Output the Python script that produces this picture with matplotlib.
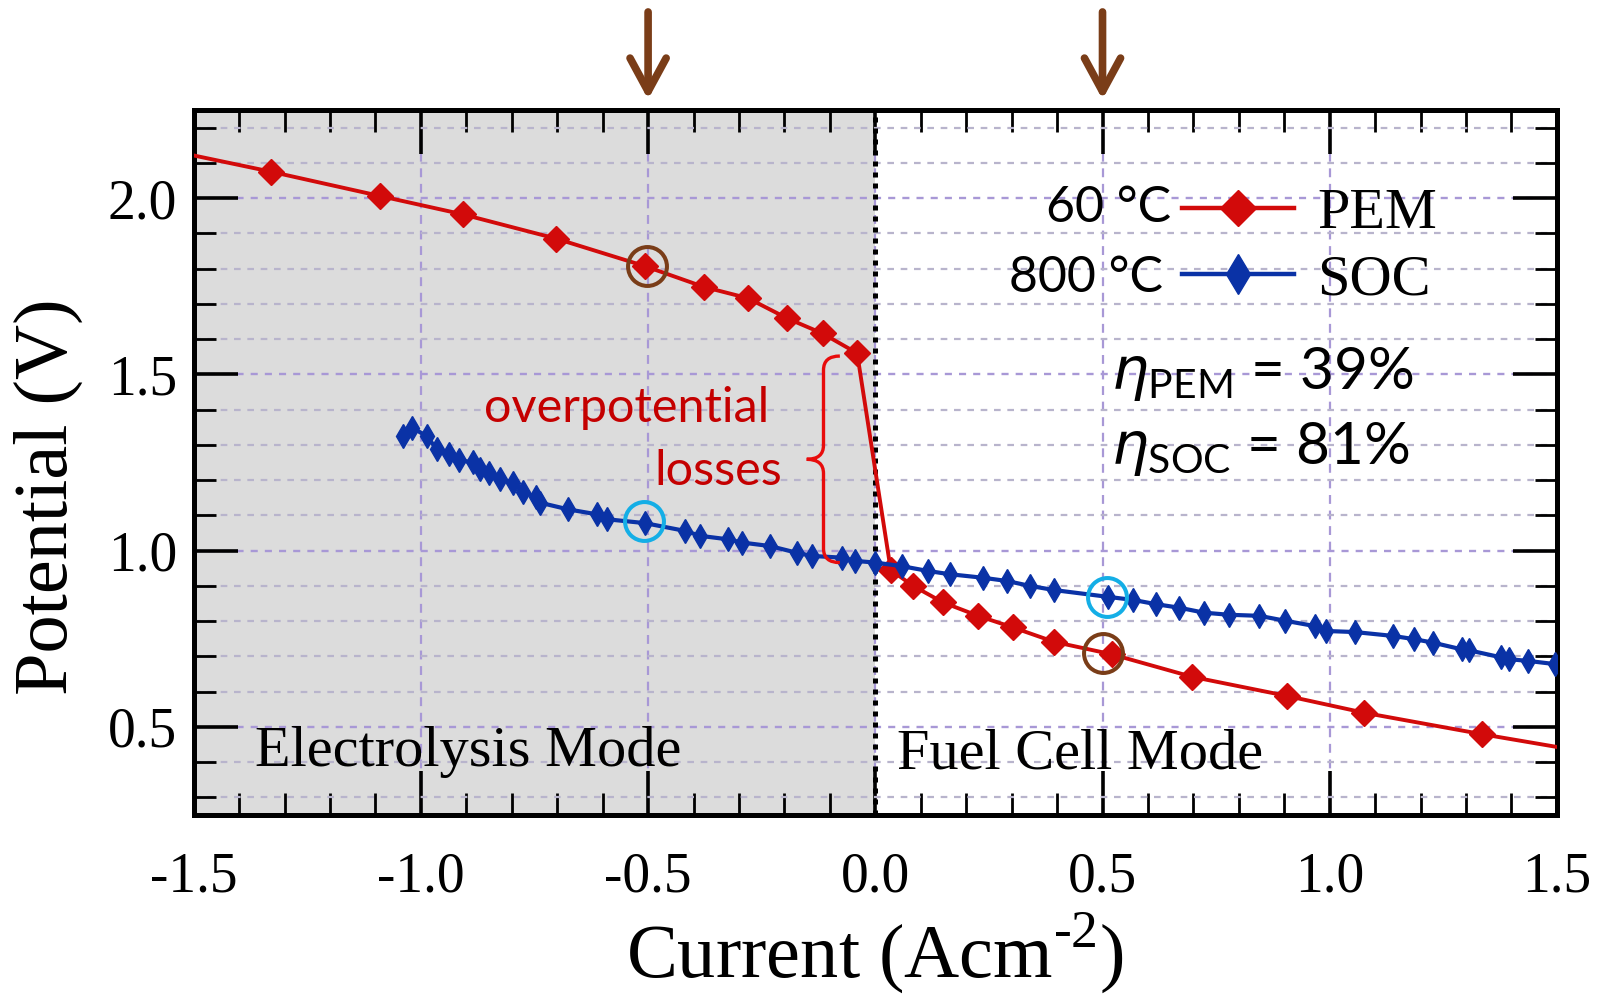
import matplotlib
matplotlib.use('Agg')
import matplotlib.pyplot as plt
from matplotlib.lines import Line2D
from matplotlib.path import Path
from matplotlib.patches import PathPatch
from matplotlib.ticker import MultipleLocator

# PEM cell at 60 C (first and last entries are only line ends, no marker)
pem_x = [-1.500, -1.330, -1.090, -0.908, -0.702, -0.507, -0.377, -0.280, -0.194, -0.116, -0.040,
         0.034, 0.083, 0.149, 0.226, 0.303, 0.394, 0.520, 0.697, 0.905, 1.076, 1.336, 1.500]
pem_y = [2.121, 2.075, 2.006, 1.954, 1.885, 1.807, 1.748, 1.716, 1.659, 1.616, 1.560,
         0.945, 0.900, 0.853, 0.815, 0.782, 0.741, 0.706, 0.642, 0.588, 0.540, 0.479, 0.443]

# solid oxide cell at 800 C
soc_x = [-1.039, -1.020, -0.987, -0.965, -0.939, -0.917, -0.885, -0.870, -0.850, -0.826, -0.797,
         -0.775, -0.747, -0.738, -0.676, -0.613, -0.591, -0.507, -0.419, -0.386, -0.324, -0.294,
         -0.232, -0.173, -0.140, -0.074, -0.045, 0.000, 0.058, 0.117, 0.164, 0.237, 0.289, 0.340,
         0.394, 0.511, 0.568, 0.618, 0.669, 0.723, 0.778, 0.845, 0.902, 0.967, 0.992, 1.055,
         1.139, 1.185, 1.227, 1.290, 1.307, 1.378, 1.395, 1.437, 1.496]
soc_y = [1.325, 1.349, 1.325, 1.287, 1.275, 1.257, 1.250, 1.231, 1.220, 1.202, 1.193,
         1.165, 1.153, 1.136, 1.117, 1.103, 1.089, 1.078, 1.056, 1.042, 1.032, 1.023,
         1.013, 0.994, 0.985, 0.980, 0.971, 0.966, 0.956, 0.942, 0.933, 0.923, 0.914, 0.900,
         0.888, 0.869, 0.860, 0.848, 0.838, 0.824, 0.818, 0.815, 0.801, 0.786, 0.772, 0.769,
         0.758, 0.749, 0.739, 0.720, 0.717, 0.697, 0.692, 0.687, 0.678]

# highlighted operating points
brown_x = [-0.503, 0.502]
brown_y = [1.807, 0.709]
cyan_x = [-0.508, 0.509]
cyan_y = [1.084, 0.868]
arrow_x = [-0.5, 0.5]

pem_color = '#d20a0a'
soc_color = '#0a32a6'
brown = '#7a3d18'
cyan = '#14aee6'

plt.rcParams['font.family'] = 'Liberation Serif'
plt.rcParams['axes.unicode_minus'] = False

fig = plt.figure(figsize=(15.98, 9.99), dpi=100)
ax = fig.add_axes([0.1212, 0.1842, 0.8531, 0.7057])
ax.set_xlim(-1.5, 1.5)
ax.set_ylim(0.25, 2.25)

ax.axvspan(-1.5, 0, color='#dcdcdc', zorder=0, lw=0)
ax.set_axisbelow(True)
ax.grid(which='minor', axis='y', ls=(0, (3, 3)), lw=1.6, color='#b8b4cc')
ax.grid(which='major', axis='y', ls=(0, (3, 3)), lw=1.7, color='#a898d6')
ax.grid(which='major', axis='x', ls=(0, (4, 3)), lw=1.6, color='#a898d6')
ax.axvline(0, color='black', ls=(0, (1, 1.2)), lw=3.6, zorder=1)

ax.plot(pem_x, pem_y, color=pem_color, lw=2.8, marker='D', ms=13,
        markevery=slice(1, len(pem_x) - 1), zorder=3)
ax.plot(soc_x, soc_y, color=soc_color, lw=3.0, marker='d', ms=12, zorder=4)

ax.plot(brown_x, brown_y, 'o', mfc='none', mec=brown, ms=28, mew=2.9, zorder=5)
ax.plot(cyan_x, cyan_y, 'o', mfc='none', mec=cyan, ms=28, mew=2.9, zorder=5)

for xa in arrow_x:
    ax.annotate('', xy=(xa, 1.011), xytext=(xa, 1.143),
                xycoords=('data', 'axes fraction'), textcoords=('data', 'axes fraction'),
                arrowprops=dict(arrowstyle='->,head_length=1.2,head_width=0.65',
                                lw=5.5, color=brown, mutation_scale=20),
                annotation_clip=False)

# curly brace for the overpotential
xs, xt, xm = -0.114, -0.078, -0.151
yt, yb = 1.552, 0.966
ym = (yt + yb) / 2
d = 0.04
verts = [(xt, yt), (xs, yt), (xs, yt - d), (xs, ym + d), (xs, ym), (xm, ym),
         (xs, ym), (xs, ym - d), (xs, yb + d), (xs, yb), (xt, yb)]
codes = [Path.MOVETO, Path.CURVE3, Path.CURVE3, Path.LINETO, Path.CURVE3, Path.CURVE3,
         Path.CURVE3, Path.CURVE3, Path.LINETO, Path.CURVE3, Path.CURVE3]
ax.add_patch(PathPatch(Path(verts, codes), fc='none', ec='#e80c0c', lw=2.4, zorder=6))

ax.text(-0.548, 1.405, 'overpotential', family='Lato', fontsize=35, color='#c40000',
        ha='center', va='center')
ax.text(-0.345, 1.225, 'losses', family='Lato', fontsize=35, color='#c40000',
        ha='center', va='center')

ax.text(-1.365, 0.39, 'Electrolysis Mode', fontsize=42, va='baseline')
ax.text(0.047, 0.383, 'Fuel Cell Mode', fontsize=42, va='baseline')

ax.text(0.652, 1.972, '60 °C', family='Lato', fontsize=36, ha='right', va='center')
ax.text(0.634, 1.772, '800 °C', family='Lato', fontsize=36, ha='right', va='center')
handles = [Line2D([], [], color=pem_color, lw=3.2, marker='D', ms=18),
           Line2D([], [], color=soc_color, lw=3.2, marker='d', ms=20)]
ax.legend(handles, ['PEM', 'SOC'], loc='center left', bbox_to_anchor=(0.725, 0.806),
          frameon=False, fontsize=42, handlelength=1.92, handletextpad=0.4,
          borderpad=0, borderaxespad=0, labelspacing=0.23)

ax.text(0.518, 1.50, r'$\eta_{\mathregular{PEM}}$ = 39%', family='Lato', fontsize=42, va='center')
ax.text(0.518, 1.287, r'$\eta_{\mathregular{SOC}}$ = 81%', family='Lato', fontsize=42, va='center')

ax.xaxis.set_major_locator(MultipleLocator(0.5))
ax.xaxis.set_minor_locator(MultipleLocator(0.1))
ax.yaxis.set_major_locator(MultipleLocator(0.5))
ax.yaxis.set_minor_locator(MultipleLocator(0.1))
ax.xaxis.set_major_formatter(lambda v, p: f'{v:.1f}')
ax.yaxis.set_major_formatter(lambda v, p: f'{v:.1f}')
ax.tick_params(which='both', direction='in', top=True, right=True)
ax.tick_params(which='major', length=32, width=2.6, labelsize=40)
ax.tick_params(which='minor', length=16, width=2.0)
ax.tick_params(axis='x', which='major', pad=26)
ax.tick_params(axis='y', which='major', pad=12)
for sp in ax.spines.values():
    sp.set_linewidth(3.6)

ax.set_xlabel('Current (Acm$^{\\mathregular{\u20102}}$)', fontsize=55)
ax.set_ylabel('Potential (V)', fontsize=55)
ax.xaxis.set_label_coords(0.5, -0.135)
ax.yaxis.set_label_coords(-0.081, 0.452)

fig.savefig('out.png', dpi=100)
